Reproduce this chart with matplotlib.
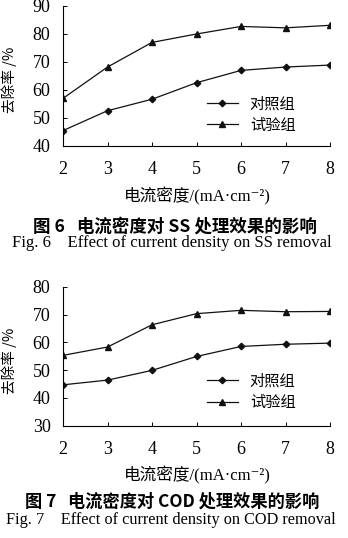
import matplotlib
matplotlib.use("Agg")
import matplotlib.pyplot as plt

plt.rcParams['font.family'] = ['Liberation Serif', 'Noto Sans CJK SC', 'DejaVu Sans']

# current density, mA/cm2
density = [2, 3, 4, 5, 6, 7, 8]

# SS removal rate (%)
ss_control = [45.5, 52.6, 56.7, 62.6, 67.0, 68.2, 68.9]
ss_test = [57.0, 68.2, 77.0, 80.0, 82.7, 82.2, 83.1]

# COD removal rate (%)
cod_control = [44.7, 46.4, 49.9, 54.9, 58.5, 59.3, 59.7]
cod_test = [55.3, 58.3, 66.3, 70.3, 71.5, 71.0, 71.1]

labels = ['对照组', '试验组']
xlabel = '电流密度/(mA·cm⁻²)'
ylabel = '去除率 /%'

CJK = ['Noto Sans CJK SC', 'DejaVu Sans']

W, H = 348, 538
fig = plt.figure(figsize=(W / 100, H / 100), dpi=100)


def px_axes(left, top, right, bottom):
    return fig.add_axes([left / W, 1 - bottom / H, (right - left) / W, (bottom - top) / H])


def draw_panel(ax, control, test, ylim, yticks, leg_y):
    ax.plot(density, control, color='#111111', lw=0.9, marker='D', ms=3.3, label=labels[0])
    ax.plot(density, test, color='#111111', lw=0.9, marker='^', ms=4.5, label=labels[1])
    ax.set_xlim(2, 8)
    ax.set_ylim(*ylim)
    ax.set_xticks(density)
    ax.set_yticks(yticks)
    for s in ['top', 'right']:
        ax.spines[s].set_visible(False)
    for s in ['left', 'bottom']:
        ax.spines[s].set_linewidth(0.8)
    ax.tick_params(direction='in', length=3, width=0.7, labelsize=13)
    ax.tick_params(axis='x', pad=11)
    ax.tick_params(axis='y', pad=9)
    ax.set_ylabel(ylabel, fontsize=10.5, family=CJK)
    ax.yaxis.set_label_coords(-(63 - 17) / (330 - 63), 0.47)
    ax.legend(loc='center left', bbox_to_anchor=(207 / W, 1 - leg_y / H),
              bbox_transform=fig.transFigure, frameon=False,
              prop={'family': CJK, 'size': 11},
              borderpad=0, borderaxespad=0, handlelength=2.0, handletextpad=0.8,
              labelspacing=0.3)


ax1 = px_axes(63, 6, 330, 146)
draw_panel(ax1, ss_control, ss_test, (40, 90), range(40, 91, 10), 114.5)
ax2 = px_axes(63, 286.7, 330, 425.7)
draw_panel(ax2, cod_control, cod_test, (30, 80), range(30, 81, 10), 392)

fig.text(197 / W, 1 - 196 / H, xlabel, ha='center', va='center', fontsize=12)
fig.text(197 / W, 1 - 475 / H, xlabel, ha='center', va='center', fontsize=12)

fig.text(175 / W, 1 - 227 / H, '图 6   电流密度对 SS 处理效果的影响', ha='center', va='center',
         fontsize=12.6, fontweight='bold', family=CJK)
fig.text(172 / W, 1 - 243 / H, 'Fig. 6    Effect of current density on SS removal',
         ha='center', va='center', fontsize=12)
fig.text(172 / W, 1 - 502 / H, '图 7   电流密度对 COD 处理效果的影响', ha='center', va='center',
         fontsize=12.4, fontweight='bold', family=CJK)
fig.text(171 / W, 1 - 520 / H, 'Fig. 7    Effect of current density on COD removal',
         ha='center', va='center', fontsize=11.7)

fig.savefig('out.png', dpi=100)
